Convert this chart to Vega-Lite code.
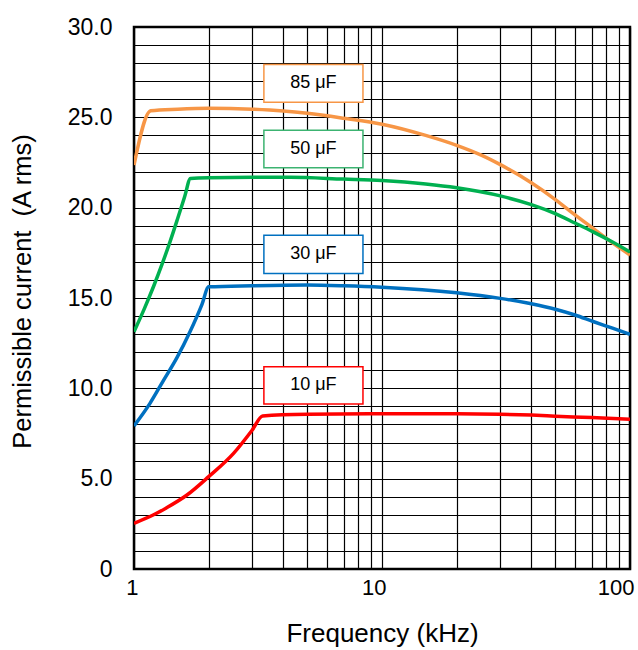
{
  "$schema": "https://vega.github.io/schema/vega-lite/v6.json",
  "autosize": {"type": "none"},
  "width": 496,
  "height": 542,
  "padding": {"left": 134, "top": 27, "right": 8, "bottom": 81},
  "background": "white",
  "config": {
    "font": "Liberation Sans",
    "view": {"stroke": "black", "strokeWidth": 2.5},
    "axis": {"domain": false, "ticks": false, "tickSize": 0, "grid": true, "gridColor": "black", "gridOpacity": 1, "gridWidth": 1.2, "labelColor": "black", "titleColor": "black", "titleFontWeight": "normal", "titleFontSize": 26, "labelFontSize": 23, "labelFlush": false, "labelOverlap": false}
  },
  "datasets": {
    "curves": [
      {"c": "85 μF", "f": 1, "i": 22.36},
      {"c": "85 μF", "f": 1.168, "i": 25.36},
      {"c": "85 μF", "f": 1.5, "i": 25.45},
      {"c": "85 μF", "f": 2.0, "i": 25.5},
      {"c": "85 μF", "f": 3.0, "i": 25.45},
      {"c": "85 μF", "f": 4.0, "i": 25.35},
      {"c": "85 μF", "f": 5.0, "i": 25.22},
      {"c": "85 μF", "f": 7.0, "i": 24.95},
      {"c": "85 μF", "f": 10, "i": 24.62},
      {"c": "85 μF", "f": 15, "i": 24.0},
      {"c": "85 μF", "f": 20, "i": 23.45},
      {"c": "85 μF", "f": 25, "i": 22.92},
      {"c": "85 μF", "f": 30, "i": 22.38},
      {"c": "85 μF", "f": 40, "i": 21.38},
      {"c": "85 μF", "f": 50, "i": 20.45},
      {"c": "85 μF", "f": 60, "i": 19.6},
      {"c": "85 μF", "f": 71, "i": 18.85},
      {"c": "85 μF", "f": 85, "i": 18.05},
      {"c": "85 μF", "f": 100, "i": 17.38},
      {"c": "50 μF", "f": 1, "i": 13.13},
      {"c": "50 μF", "f": 1.1, "i": 14.4},
      {"c": "50 μF", "f": 1.2, "i": 15.65},
      {"c": "50 μF", "f": 1.3, "i": 16.9},
      {"c": "50 μF", "f": 1.4, "i": 18.15},
      {"c": "50 μF", "f": 1.5, "i": 19.4},
      {"c": "50 μF", "f": 1.6, "i": 20.6},
      {"c": "50 μF", "f": 1.69, "i": 21.62},
      {"c": "50 μF", "f": 2.0, "i": 21.66},
      {"c": "50 μF", "f": 3.0, "i": 21.68},
      {"c": "50 μF", "f": 4.26, "i": 21.68},
      {"c": "50 μF", "f": 7.0, "i": 21.58},
      {"c": "50 μF", "f": 10, "i": 21.5},
      {"c": "50 μF", "f": 15, "i": 21.31},
      {"c": "50 μF", "f": 20, "i": 21.1},
      {"c": "50 μF", "f": 30, "i": 20.65},
      {"c": "50 μF", "f": 40, "i": 20.17},
      {"c": "50 μF", "f": 50, "i": 19.67},
      {"c": "50 μF", "f": 60, "i": 19.15},
      {"c": "50 μF", "f": 71, "i": 18.66},
      {"c": "50 μF", "f": 85, "i": 18.1},
      {"c": "50 μF", "f": 100, "i": 17.55},
      {"c": "30 μF", "f": 1, "i": 7.92},
      {"c": "30 μF", "f": 1.16, "i": 9.17},
      {"c": "30 μF", "f": 1.31, "i": 10.4},
      {"c": "30 μF", "f": 1.49, "i": 11.7},
      {"c": "30 μF", "f": 1.68, "i": 13.12},
      {"c": "30 μF", "f": 1.88, "i": 14.65},
      {"c": "30 μF", "f": 2.0, "i": 15.62},
      {"c": "30 μF", "f": 3.0, "i": 15.68},
      {"c": "30 μF", "f": 5.0, "i": 15.72},
      {"c": "30 μF", "f": 7.0, "i": 15.68},
      {"c": "30 μF", "f": 10, "i": 15.6},
      {"c": "30 μF", "f": 20, "i": 15.29},
      {"c": "30 μF", "f": 30, "i": 14.98},
      {"c": "30 μF", "f": 40, "i": 14.68},
      {"c": "30 μF", "f": 50, "i": 14.38},
      {"c": "30 μF", "f": 60, "i": 14.06},
      {"c": "30 μF", "f": 71, "i": 13.7},
      {"c": "30 μF", "f": 85, "i": 13.33},
      {"c": "30 μF", "f": 100, "i": 12.99},
      {"c": "10 μF", "f": 1, "i": 2.53},
      {"c": "10 μF", "f": 1.2, "i": 3.0},
      {"c": "10 μF", "f": 1.35, "i": 3.38},
      {"c": "10 μF", "f": 1.63, "i": 4.08},
      {"c": "10 μF", "f": 2.0, "i": 5.11},
      {"c": "10 μF", "f": 2.52, "i": 6.4},
      {"c": "10 μF", "f": 3.0, "i": 7.7},
      {"c": "10 μF", "f": 3.3, "i": 8.47},
      {"c": "10 μF", "f": 5.0, "i": 8.56},
      {"c": "10 μF", "f": 10, "i": 8.59},
      {"c": "10 μF", "f": 20, "i": 8.6},
      {"c": "10 μF", "f": 30, "i": 8.57},
      {"c": "10 μF", "f": 40, "i": 8.52},
      {"c": "10 μF", "f": 50, "i": 8.46},
      {"c": "10 μF", "f": 70, "i": 8.38},
      {"c": "10 μF", "f": 100, "i": 8.29}
    ],
    "boxes": [
      {"c": "85 μF", "x1": 3.34, "x2": 8.38, "y1": 25.83, "y2": 27.93, "xc": 5.29, "yc": 26.88},
      {"c": "50 μF", "x1": 3.34, "x2": 8.38, "y1": 22.21, "y2": 24.29, "xc": 5.29, "yc": 23.25},
      {"c": "30 μF", "x1": 3.34, "x2": 8.38, "y1": 16.36, "y2": 18.48, "xc": 5.29, "yc": 17.42},
      {"c": "10 μF", "x1": 3.34, "x2": 8.38, "y1": 9.13, "y2": 11.2, "xc": 5.29, "yc": 10.17}
    ]
  },
  "layer": [
    {
      "data": {"name": "curves"},
      "mark": {"type": "line", "strokeWidth": 3.5, "interpolate": "monotone", "clip": true},
      "encoding": {
        "x": {"field": "f", "type": "quantitative", "scale": {"type": "log", "domain": [1, 100], "nice": false},
          "axis": {"title": "Frequency (kHz)", "tickCount": 40, "values": [1, 2, 3, 4, 5, 6, 7, 8, 9, 10, 20, 30, 40, 50, 60, 70, 80, 90, 100], "labelExpr": "datum.value == 1 || datum.value == 10 || datum.value == 100 ? format(datum.value, 'd') : ''", "labelAlign": "right", "labelOffset": 4, "labelBaseline": "top", "labelPadding": 8, "labelFontSize": 22, "titleBaseline": "alphabetic", "titleY": 72}},
        "y": {"field": "i", "type": "quantitative", "scale": {"domain": [0, 30], "nice": false},
          "axis": {"title": "Permissible current \u00a0(A rms)", "tickCount": 40, "values": [0, 1, 2, 3, 4, 5, 6, 7, 8, 9, 10, 11, 12, 13, 14, 15, 16, 17, 18, 19, 20, 21, 22, 23, 24, 25, 26, 27, 28, 29, 30], "labelExpr": "datum.value % 5 == 0 ? (datum.value == 0 ? '0' : format(datum.value, '.1f')) : ''", "labelPadding": 22, "labelBaseline": "middle", "titleAngle": -90, "titleAlign": "center", "titleBaseline": "middle", "titleX": -112, "titleY": 264, "titleFontSize": 25.5}},
        "color": {
          "field": "c", "type": "nominal",
          "scale": {"domain": ["10 μF", "30 μF", "50 μF", "85 μF"], "range": ["#FF0000", "#0070C0", "#00B050", "#F79646"]},
          "legend": null
        }
      }
    },
    {
      "data": {"name": "boxes"},
      "mark": {"type": "rect", "fill": "white", "strokeWidth": 1.5},
      "encoding": {
        "x": {"field": "x1", "type": "quantitative",
          "axis": {"title": "Frequency (kHz)", "tickCount": 40, "values": [1, 2, 3, 4, 5, 6, 7, 8, 9, 10, 20, 30, 40, 50, 60, 70, 80, 90, 100], "labelExpr": "datum.value == 1 || datum.value == 10 || datum.value == 100 ? format(datum.value, 'd') : ''", "labelAlign": "right", "labelOffset": 4, "labelBaseline": "top", "labelPadding": 8, "labelFontSize": 22, "titleBaseline": "alphabetic", "titleY": 72}},
        "x2": {"field": "x2"},
        "y": {"field": "y1", "type": "quantitative",
          "axis": {"title": "Permissible current \u00a0(A rms)", "tickCount": 40, "values": [0, 1, 2, 3, 4, 5, 6, 7, 8, 9, 10, 11, 12, 13, 14, 15, 16, 17, 18, 19, 20, 21, 22, 23, 24, 25, 26, 27, 28, 29, 30], "labelExpr": "datum.value % 5 == 0 ? (datum.value == 0 ? '0' : format(datum.value, '.1f')) : ''", "labelPadding": 22, "labelBaseline": "middle", "titleAngle": -90, "titleAlign": "center", "titleBaseline": "middle", "titleX": -112, "titleY": 264, "titleFontSize": 25.5}},
        "y2": {"field": "y2"},
        "stroke": {
          "field": "c", "type": "nominal",
          "scale": {"domain": ["10 μF", "30 μF", "50 μF", "85 μF"], "range": ["#FF0000", "#0070C0", "#3CB371", "#F79646"]},
          "legend": null
        }
      }
    },
    {
      "data": {"name": "boxes"},
      "mark": {"type": "text", "fontSize": 18, "color": "black", "align": "center", "baseline": "middle"},
      "encoding": {
        "x": {"field": "xc", "type": "quantitative",
          "axis": {"title": "Frequency (kHz)", "tickCount": 40, "values": [1, 2, 3, 4, 5, 6, 7, 8, 9, 10, 20, 30, 40, 50, 60, 70, 80, 90, 100], "labelExpr": "datum.value == 1 || datum.value == 10 || datum.value == 100 ? format(datum.value, 'd') : ''", "labelAlign": "right", "labelOffset": 4, "labelBaseline": "top", "labelPadding": 8, "labelFontSize": 22, "titleBaseline": "alphabetic", "titleY": 72}},
        "y": {"field": "yc", "type": "quantitative",
          "axis": {"title": "Permissible current \u00a0(A rms)", "tickCount": 40, "values": [0, 1, 2, 3, 4, 5, 6, 7, 8, 9, 10, 11, 12, 13, 14, 15, 16, 17, 18, 19, 20, 21, 22, 23, 24, 25, 26, 27, 28, 29, 30], "labelExpr": "datum.value % 5 == 0 ? (datum.value == 0 ? '0' : format(datum.value, '.1f')) : ''", "labelPadding": 22, "labelBaseline": "middle", "titleAngle": -90, "titleAlign": "center", "titleBaseline": "middle", "titleX": -112, "titleY": 264, "titleFontSize": 25.5}},
        "text": {"field": "c"}
      }
    }
  ],
  "resolve": {"scale": {"color": "independent"}}
}
